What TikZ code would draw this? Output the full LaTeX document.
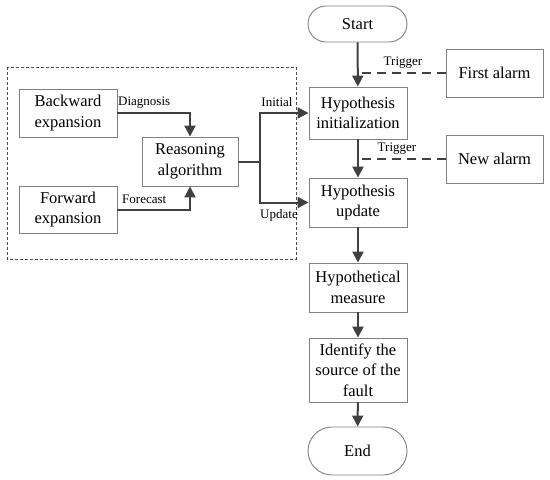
\documentclass[tikz,border=0pt]{standalone}
\usepackage{fontspec}
\setmainfont{Liberation Serif}
\usetikzlibrary{arrows.meta}
\begin{document}
\begin{tikzpicture}[x=1pt,y=-1pt,
 box/.style={draw=black!50, line width=0.9pt, fill=white, align=center, font=\fontsize{16.5}{20.5}\selectfont, inner sep=0pt},
 term/.style={box},
 arr/.style={draw=black!75, line width=2pt, -{Triangle[length=11pt,width=11pt]}},
 plain/.style={draw=black!75, line width=2pt},
 lbl/.style={font=\fontsize{13}{15}\selectfont, inner sep=0pt},
 trig/.style={draw=black!75, line width=1.6pt, dash pattern=on 9pt off 6pt}]
\useasboundingbox (0,0) rectangle (550,480);
\draw[black!70, line width=0.8pt, dash pattern=on 3pt off 2pt] (7,67) rectangle (296,259);
% right column
\node[term, rounded corners=18pt, minimum width=99pt, minimum height=36pt] (start) at (357.5,24) {Start};
\node[box, minimum width=98pt, minimum height=52pt] (hinit) at (358,113) {Hypothesis\\initialization};
\node[box, minimum width=98pt, minimum height=49pt] (hupd) at (358,202.5) {Hypothesis\\update};
\node[box, minimum width=98pt, minimum height=49pt] (hmeas) at (358,287.5) {Hypothetical\\measure};
\node[box, minimum width=98pt, minimum height=64pt] (ident) at (358,370) {Identify the\\source of the\\fault};
\node[term, rounded corners=24pt, minimum width=99pt, minimum height=48pt] (end) at (357.5,451) {End};
\node[box, minimum width=97pt, minimum height=48pt] (first) at (494.5,73) {First alarm};
\node[box, minimum width=97pt, minimum height=48pt] (new) at (494.5,159) {New alarm};
% left part
\node[box, minimum width=98pt, minimum height=48pt] (back) at (68,113) {Backward\\expansion};
\node[box, minimum width=98pt, minimum height=47pt] (fwd) at (68,209.5) {Forward\\expansion};
\node[box, minimum width=96pt, minimum height=49pt] (reason) at (190,161.5) {Reasoning\\algorithm};
\coordinate (split) at (260,161.5);
% arrows
\draw[arr] (start) -- (hinit);
\draw[arr] (hinit) -- (hupd);
\draw[arr] (hupd) -- (hmeas);
\draw[arr] (hmeas) -- (ident);
\draw[arr] (ident) -- (end);
\draw[trig] (first.west) -- (first.west -| start.south);
\draw[trig] (new.west) -- (new.west -| hinit.south);
\node[lbl] (t1) at (403,63) {Trigger};
\node[lbl] (t2) at (397,149) {Trigger};
\draw[arr] (back.east) -| (reason.north);
\draw[arr] (fwd.east) -| (reason.south);
\draw[plain] (reason.east) -- (split);
\draw[arr, line join=miter] (split) |- (hinit.west);
\draw[arr, line join=miter] (split) |- (hupd.west);
\node[lbl, anchor=west] (ld) at (118,103) {Diagnosis};
\node[lbl, anchor=west] (lf) at (122,199) {Forecast};
\node[lbl] (li) at (277,102) {Initial};
\node[lbl] (lu) at (279,215) {Update};
\end{tikzpicture}
\end{document}
